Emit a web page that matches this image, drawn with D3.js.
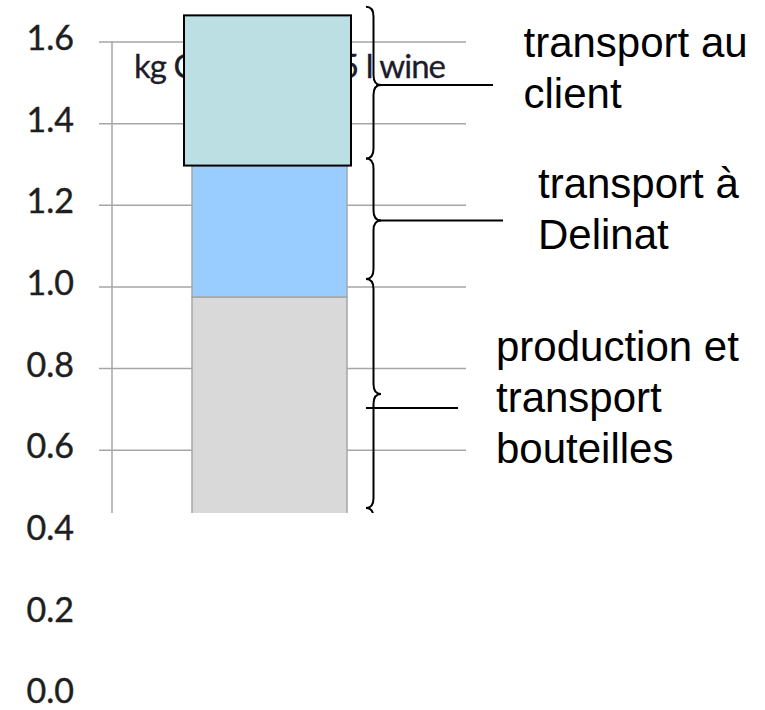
<!DOCTYPE html>
<html><head><meta charset="utf-8">
<script src="https://cdn.jsdelivr.net/npm/d3@7"></script>
<style>html,body{margin:0;padding:0;background:#fff;}svg{display:block;}</style>
</head><body>
<svg id="chart" width="765" height="710"></svg>
<script>
// ---- data ----
const categories = ["vin"];
const seriesKeys = ["production", "delinat", "client"];
const productionValues = [0.974];   // production et transport bouteilles
const delinatValues = [0.322];      // transport à Delinat
const clientValues = [0.368];       // transport au client
const tickValues = [0, 0.2, 0.4, 0.6, 0.8, 1.0, 1.2, 1.4, 1.6];
const titleText = "kg CO2 per 0.75 l wine";
const labelLines = [["transport au", "client"], ["transport à", "Delinat"], ["production et", "transport", "bouteilles"]];
// brace annotation ranges (in axis units)
const braceTop    = [1.685, 1.3134, 1.018, 0.457];
const braceBottom = [1.3134, 1.018, 0.457, 0.10];
const braceCusp   = [1.4936, 1.1615, 0.7363, 0.30];
const leaderValue = [1.4936, 1.1615, 0.702];

// ---- styles / layout ----
const seriesColors = {production: "#D9D9D9", delinat: "#99CCFF", client: "#BBDFE3"};
const layout = {
  yBottom: 694.5, yTop: 41.5, clipBottom: 513,
  gridLeft: 99, gridRight: 466, axisX: 112, labelRight: 74,
  barLeft: 192, barRight: 347, topPadL: 8, topPadR: 4,
  titleRight: 446, titleBase: 78, titleWidth: 312,
  braceTip: 366, braceSpine: 373.5, braceCuspX: 381, braceR: 10,
  leaders: [[376, 493], [378, 503], [366, 458]],
  labelX: [523.5, 538, 496], labelBase: [57, 197.5, 360.5], lineH: 51.3
};

const svg = d3.select("#chart");
const y = d3.scaleLinear().domain([0, 1.6]).range([layout.yBottom, layout.yTop]);
const x = d3.scaleBand().domain(categories).range([layout.barLeft, layout.barRight]).padding(0);

const rows = categories.map((c, i) => ({cat: c, production: productionValues[i], delinat: delinatValues[i], client: clientValues[i]}));
const stacked = d3.stack().keys(seriesKeys)(rows);

svg.append("defs").append("clipPath").attr("id", "plotclip")
  .append("rect").attr("x", 0).attr("y", 0).attr("width", 765).attr("height", layout.clipBottom);

const plot = svg.append("g").attr("clip-path", "url(#plotclip)");

// gridlines
const grid = plot.append("g").attr("transform", `translate(${layout.gridLeft},0)`)
  .call(d3.axisLeft(y).tickValues(tickValues).tickSizeInner(-(layout.gridRight - layout.gridLeft)).tickSizeOuter(0).tickFormat(""));
grid.select(".domain").remove();
grid.selectAll(".tick line").attr("stroke", "#A6A6A6").attr("stroke-width", 1.5);

// vertical axis line
plot.append("line").attr("x1", layout.axisX).attr("x2", layout.axisX)
  .attr("y1", y(1.6)).attr("y2", y(0)).attr("stroke", "#A6A6A6").attr("stroke-width", 1.5);

// lower segments
stacked.filter(s => s.key !== "client").forEach(s => {
  plot.selectAll(null).data(s).enter().append("rect")
    .attr("x", d => x(d.data.cat)).attr("width", x.bandwidth())
    .attr("y", d => y(d[1])).attr("height", d => y(d[0]) - y(d[1]))
    .attr("fill", seriesColors[s.key]).attr("stroke", "#A6A6A6").attr("stroke-width", 1.5);
});

// title (partly hidden by top box)
plot.append("text").attr("x", layout.titleRight).attr("y", layout.titleBase)
  .attr("text-anchor", "end").attr("textLength", layout.titleWidth).attr("lengthAdjust", "spacing")
  .attr("font-family", "Lato, 'Open Sans', sans-serif").attr("font-size", 33).attr("fill", "#1c1c2a")
  .attr("stroke", "#1c1c2a").attr("stroke-width", 0.3)
  .text(titleText);

// top segment (drawn as a wider outlined box)
const topSeries = stacked.find(s => s.key === "client");
svg.selectAll(null).data(topSeries).enter().append("rect")
  .attr("x", d => x(d.data.cat) - layout.topPadL).attr("width", x.bandwidth() + layout.topPadL + layout.topPadR)
  .attr("y", d => y(d[1])).attr("height", d => y(d[0]) - y(d[1]))
  .attr("fill", seriesColors.client).attr("stroke", "#000").attr("stroke-width", 2);

// y axis labels
const yAxis = svg.append("g").attr("transform", `translate(${layout.labelRight},0)`)
  .call(d3.axisLeft(y).tickValues(tickValues).tickSize(0).tickPadding(0).tickFormat(d3.format(".1f")));
yAxis.select(".domain").remove();
yAxis.selectAll("text").attr("font-family", "Lato, 'Open Sans', sans-serif").attr("font-size", 34)
  .attr("fill", "#1e1e1e").attr("stroke", "#1e1e1e").attr("stroke-width", 0.4).attr("dy", "0.24em");

// braces
const L = layout;
function bracePath(t, b, c) {
  const yt = y(t), yb = y(b), yc = y(c), r = L.braceR;
  return `M${L.braceTip},${yt} Q${L.braceSpine},${yt} ${L.braceSpine},${yt + r} L${L.braceSpine},${yc - r} ` +
         `Q${L.braceSpine},${yc} ${L.braceCuspX},${yc} Q${L.braceSpine},${yc} ${L.braceSpine},${yc + r} ` +
         `L${L.braceSpine},${yb - r} Q${L.braceSpine},${yb} ${L.braceTip},${yb}`;
}
const braceG = plot.append("g");
braceTop.forEach((t, i) => {
  braceG.append("path").attr("d", bracePath(t, braceBottom[i], braceCusp[i]))
    .attr("fill", "none").attr("stroke", "#000").attr("stroke-width", 2);
});
leaderValue.forEach((v, i) => {
  braceG.append("line").attr("x1", L.leaders[i][0]).attr("x2", L.leaders[i][1])
    .attr("y1", y(v)).attr("y2", y(v)).attr("stroke", "#000").attr("stroke-width", 2);
});

// right labels
labelLines.forEach((lines, i) => {
  const t = svg.append("text").attr("font-family", "'Liberation Sans', Arial, sans-serif")
    .attr("font-size", 42).attr("fill", "#000");
  lines.forEach((ln, j) => {
    t.append("tspan").attr("x", L.labelX[i]).attr("y", L.labelBase[i] + j * L.lineH).text(ln);
  });
});
</script>
</body></html>
